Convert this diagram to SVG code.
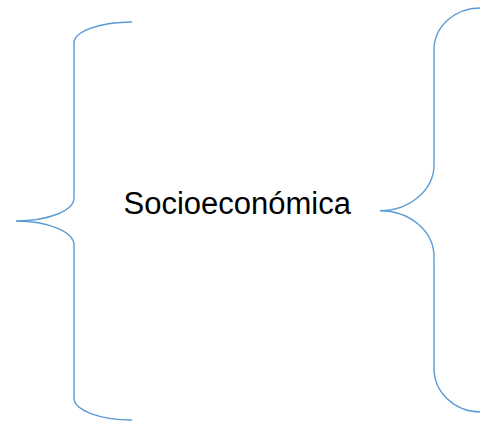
<svg xmlns="http://www.w3.org/2000/svg" width="480" height="422" viewBox="0 0 480 422">
<style>
.brace{fill:none;stroke:#5B9BD5;stroke-width:1.4}
.lbl{font-family:"Liberation Sans",Arial,sans-serif;font-size:31px;fill:#000}
</style>
<rect width="480" height="422" fill="#fff"/>
<g id="connectors">
<path id="brace-left" class="brace" d="M132,22 A58,21 0 0 0 74,43 V198 A58,23 0 0 1 16,221 A58,24 0 0 1 74,245 V398 A58,22 0 0 0 132,420"/>
<path id="brace-right" class="brace" d="M480,8 A46,42 0 0 0 434,50 V165 A54,46 0 0 1 380,210.7 A54,46 0 0 1 434,257 V368 A46,44 0 0 0 480,412"/>
</g>
<g id="node-socioeconomica">
<text class="lbl" x="123.5" y="214">Socioeconómica</text>
</g>
</svg>
